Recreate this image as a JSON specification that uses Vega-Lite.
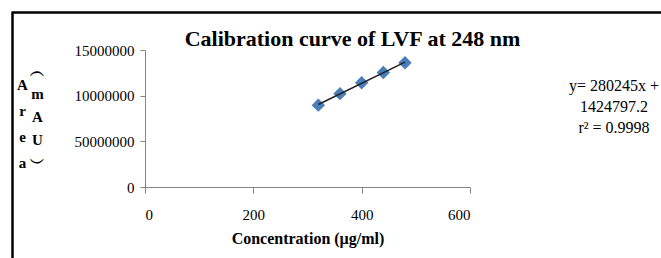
{
  "$schema": "https://vega.github.io/schema/vega-lite/v6.json",
  "width": 325,
  "height": 137,
  "autosize": {"type": "none"},
  "padding": {"left": 145, "top": 50, "right": 191, "bottom": 71},
  "background": "white",
  "config": {"view": {"stroke": null}, "font": "Liberation Serif"},
  "title": {
    "text": "Calibration curve of LVF at 248 nm",
    "font": "Liberation Serif",
    "fontSize": 22,
    "fontWeight": "bold",
    "color": "black",
    "anchor": "middle",
    "frame": "group",
    "dx": 45,
    "dy": 44,
    "offset": 4
  },
  "data": {
    "values": [
      {"conc": 320, "area": 8960000},
      {"conc": 360, "area": 10220000},
      {"conc": 400, "area": 11420000},
      {"conc": 440, "area": 12540000},
      {"conc": 480, "area": 13600000}
    ]
  },
  "layer": [
    {
      "mark": {"type": "point", "shape": "diamond", "filled": true, "size": 180, "color": "#4A7EBB", "opacity": 1},
      "encoding": {
        "x": {
          "field": "conc", "type": "quantitative",
          "scale": {"domain": [0, 600], "nice": false, "zero": false},
          "axis": {
            "values": [0, 200, 400, 600],
            "grid": false,
            "domainColor": "#868686",
            "tickColor": "#868686",
            "tickSize": 6,
            "labelFont": "Liberation Serif",
            "labelFontSize": 15,
            "labelColor": "black",
            "labelPadding": 14,
            "title": "Concentration (µg/ml)",
            "titleFont": "Liberation Serif",
            "titleFontSize": 16,
            "titleFontWeight": "bold",
            "titleColor": "black",
            "titlePadding": 8
          }
        },
        "y": {
          "field": "area", "type": "quantitative",
          "scale": {"domain": [0, 15000000], "nice": false},
          "axis": {
            "values": [0, 5000000, 10000000, 15000000],
            "format": "d",
            "labelExpr": "datum.value == 5000000 ? '50000000' : datum.label",
            "grid": false,
            "domainColor": "#868686",
            "tickColor": "#868686",
            "tickSize": 5,
            "labelFont": "Liberation Serif",
            "labelFontSize": 15,
            "labelColor": "black",
            "labelPadding": 6,
            "title": ["A", "r", "e", "a"],
            "titleFont": "Liberation Serif",
            "titleFontSize": 15,
            "titleFontWeight": "bold",
            "titleColor": "black",
            "titleAngle": 0,
            "titleAlign": "center",
            "titleBaseline": "top",
            "titleLineHeight": 26,
            "titleX": -123,
            "titleY": 27
          }
        }
      }
    },
    {
      "transform": [{"regression": "area", "on": "conc"}],
      "mark": {"type": "line", "strokeWidth": 1.5},
      "encoding": {
        "x": {
          "field": "conc", "type": "quantitative",
          "scale": {"domain": [0, 600], "nice": false, "zero": false},
          "axis": {
            "orient": "top",
            "offset": 38,
            "values": [0],
            "tickOffset": -133.5,
            "domain": false,
            "labels": false,
            "grid": false,
            "tickColor": "black",
            "tickWidth": 2.5,
            "tickSize": -250,
            "title": null
          }
        },
        "y": {
          "field": "area", "type": "quantitative",
          "scale": {"domain": [0, 15000000], "nice": false},
          "axis": {
            "orient": "left",
            "offset": 134,
            "values": [15000000],
            "tickOffset": -38,
            "domain": false,
            "labels": false,
            "grid": false,
            "tickColor": "black",
            "tickWidth": 2.5,
            "tickSize": -660,
            "title": ["︵", "m", "A", "U", "︶"],
            "titleFont": "Liberation Serif",
            "titleFontSize": 15,
            "titleFontWeight": "bold",
            "titleColor": "black",
            "titleAngle": 0,
            "titleAlign": "center",
            "titleBaseline": "top",
            "titleLineHeight": 23,
            "titleX": 26,
            "titleY": 13
          }
        },
        "color": {
          "datum": "Linear (Area)",
          "scale": {"range": ["#222222"]},
          "legend": {
            "orient": "none",
            "legendX": 424,
            "legendY": 28,
            "title": ["y= 280245x +", "1424797.2", "r² = 0.9998"],
            "titleFont": "Liberation Serif",
            "titleFontSize": 16,
            "titleFontWeight": "normal",
            "titleColor": "black",
            "titleAlign": "center",
            "titleAnchor": "middle",
            "titleLineHeight": 21,
            "titleLimit": 400,
            "symbolOpacity": 0,
            "labelOpacity": 0
          }
        }
      }
    }
  ],
  "resolve": {"scale": {"x": "independent", "y": "independent"}}
}
